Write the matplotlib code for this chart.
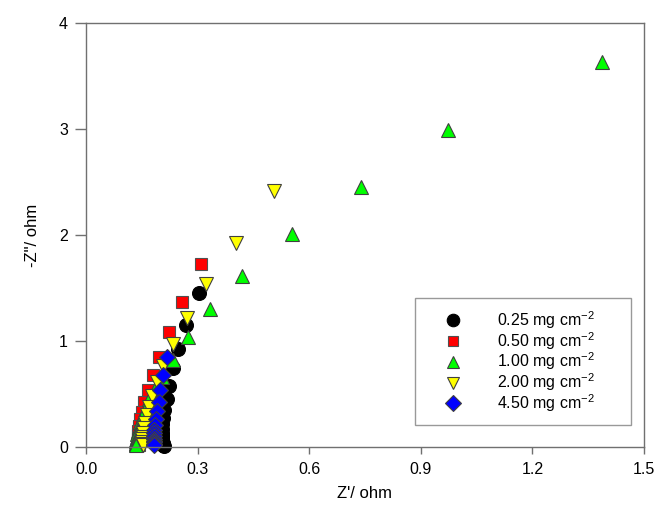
import matplotlib
matplotlib.use("Agg")
import matplotlib.pyplot as plt

plt.rcParams["font.family"] = ["Liberation Sans", "DejaVu Sans"]
plt.rcParams["mathtext.default"] = "regular"

# Nyquist data (Z', -Z'')
z_re_025 = [0.304, 0.270, 0.248, 0.233, 0.224, 0.217, 0.210, 0.207, 0.205,
            0.204, 0.204, 0.204, 0.205, 0.205, 0.206, 0.207, 0.208, 0.209]
z_im_025 = [1.456, 1.151, 0.925, 0.742, 0.575, 0.450, 0.349, 0.275, 0.215,
            0.170, 0.132, 0.100, 0.075, 0.055, 0.040, 0.027, 0.016, 0.008]

z_re_050 = [0.309, 0.257, 0.223, 0.196, 0.179, 0.166, 0.156, 0.150, 0.146,
            0.143, 0.141, 0.140, 0.140, 0.140, 0.141, 0.142]
z_im_050 = [1.729, 1.365, 1.085, 0.852, 0.679, 0.538, 0.427, 0.333, 0.260,
            0.200, 0.150, 0.110, 0.080, 0.055, 0.035, 0.020]

z_re_100 = [1.386, 0.974, 0.739, 0.553, 0.420, 0.333, 0.273, 0.235, 0.205,
            0.185, 0.170, 0.160, 0.152, 0.146, 0.142, 0.139, 0.137, 0.136,
            0.135, 0.134, 0.134, 0.134, 0.134]
z_im_100 = [3.635, 2.990, 2.456, 2.007, 1.616, 1.299, 1.035, 0.821, 0.660,
            0.545, 0.450, 0.370, 0.300, 0.240, 0.190, 0.150, 0.118, 0.092,
            0.070, 0.052, 0.038, 0.026, 0.016]

z_re_200 = [0.505, 0.402, 0.322, 0.272, 0.235, 0.208, 0.190, 0.178, 0.170,
            0.164, 0.159, 0.156, 0.154, 0.152, 0.151, 0.151, 0.151, 0.152]
z_im_200 = [2.418, 1.927, 1.535, 1.214, 0.969, 0.767, 0.616, 0.484, 0.380,
            0.300, 0.230, 0.175, 0.132, 0.098, 0.072, 0.050, 0.033, 0.020]

z_re_450 = [0.217, 0.207, 0.200, 0.195, 0.191, 0.188, 0.186, 0.184, 0.183,
            0.182, 0.182, 0.182, 0.182, 0.182, 0.183]
z_im_450 = [0.852, 0.680, 0.540, 0.425, 0.335, 0.265, 0.210, 0.165, 0.130,
            0.100, 0.078, 0.060, 0.045, 0.033, 0.023]

labels = ["0.25 mg cm$^{-2}$", "0.50 mg cm$^{-2}$", "1.00 mg cm$^{-2}$",
          "2.00 mg cm$^{-2}$", "4.50 mg cm$^{-2}$"]

series = [
    (z_re_025, z_im_025, "o", "black", "black", 10),
    (z_re_050, z_im_050, "s", "#ff0000", "#505050", 8.5),
    (z_re_100, z_im_100, "^", "#00ff00", "#404040", 10),
    (z_re_200, z_im_200, "v", "#ffff00", "#404040", 10),
    (z_re_450, z_im_450, "D", "#0000ff", "#404040", 8.5),
]

fig = plt.figure(figsize=(6.58, 5.09), dpi=100)
ax = fig.add_axes([0.1307, 0.1218, 0.848, 0.833])

for (xs, ys, mk, fc, ec, ms), lab in zip(series, labels):
    ax.plot(xs, ys, linestyle="none", marker=mk, markersize=ms,
            markerfacecolor=fc, markeredgecolor=ec, markeredgewidth=0.8,
            label=lab, clip_on=False)

ax.set_xlim(0, 1.5)
ax.set_ylim(0, 4)
ax.set_xticks([0.0, 0.3, 0.6, 0.9, 1.2, 1.5])
ax.set_xticklabels(["0.0", "0.3", "0.6", "0.9", "1.2", "1.5"])
ax.set_yticks([0, 1, 2, 3, 4])

for sp in ax.spines.values():
    sp.set_color("#707070")
    sp.set_linewidth(1.0)
ax.tick_params(axis="x", direction="out", length=5, width=1,
               color="#707070", labelsize=11.5, pad=6)
ax.tick_params(axis="y", direction="out", length=8, width=1,
               color="#707070", labelsize=11.5, pad=5)

ax.set_xlabel("Z'/ ohm", fontsize=12, labelpad=6)
ax.set_ylabel('-Z"/ ohm', fontsize=12, labelpad=14)

leg_top = 1 - 298 / 509
leg_h = 0.1
leg = ax.legend(loc="upper left", mode="expand",
                bbox_to_anchor=(415 / 658, leg_top - leg_h, 216 / 658, leg_h),
                bbox_transform=fig.transFigure,
                fontsize=11.5, frameon=True, fancybox=False,
                handlelength=3.3, handletextpad=1.15, labelspacing=-0.06,
                borderpad=0.7, borderaxespad=0, markerscale=0.9)
leg.get_frame().set_edgecolor("#808080")
leg.get_frame().set_linewidth(1.0)

fig.savefig("out.png", dpi=100)
